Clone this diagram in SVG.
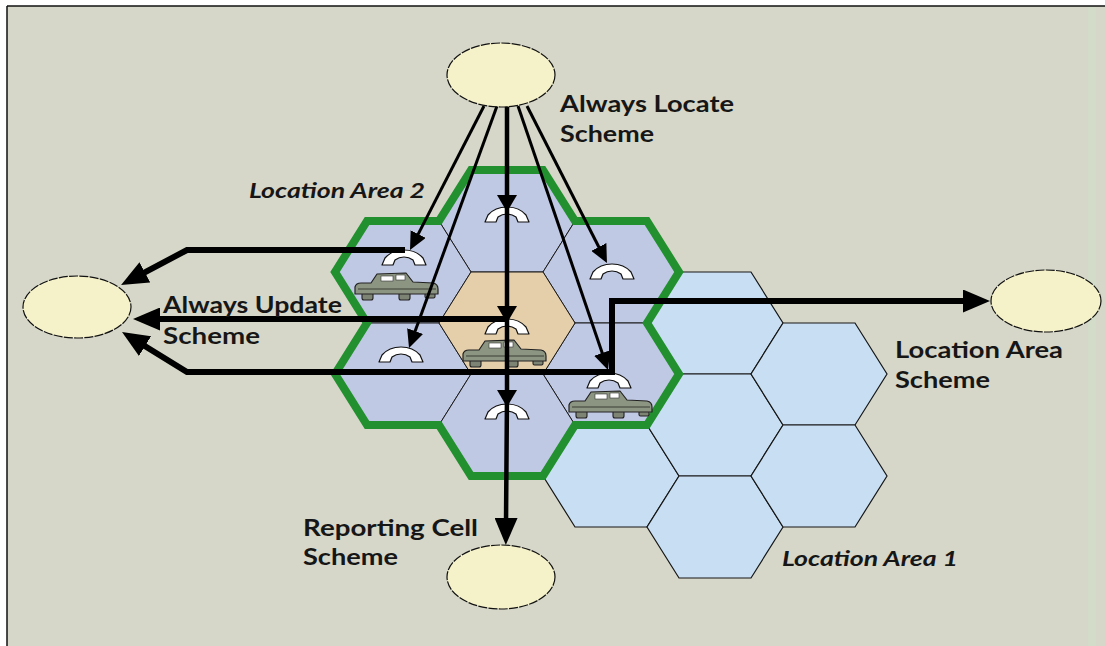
<svg xmlns="http://www.w3.org/2000/svg" xmlns:xlink="http://www.w3.org/1999/xlink" width="1105" height="646" viewBox="0 0 1105 646">
  <style>
    .lbl { font-family: Lato, "Open Sans", "Liberation Sans", sans-serif; font-weight: 700; font-size: 23px; fill: #161616; }
    .area { font-family: Lato, "Open Sans", "Liberation Sans", sans-serif; font-weight: 700; font-style: italic; font-size: 20px; fill: #161616; }
    .cell-la1 { fill: #c8dff3; stroke: #161616; stroke-width: 1.2; }
    .cell-la2 { fill: #c0c9e4; stroke: #1a1a1a; stroke-width: 1; }
    .cell-core { fill: #e5cfab; stroke: #1a1a1a; stroke-width: 1; }
    .la2-border { fill: none; stroke: #23902f; stroke-width: 8; stroke-linejoin: miter; }
    .db { fill: #f5f1c9; stroke: #111; stroke-width: 1.2; stroke-dasharray: 9 1.3; }
    .thin { fill: none; stroke: #000; stroke-width: 3; marker-end: url(#ahSmall); }
    .thick { fill: none; stroke: #000; stroke-width: 6; stroke-linejoin: miter; marker-end: url(#ahBig); }
    .spine { fill: none; stroke: #000; stroke-width: 4.5; marker-mid: url(#ahMid); marker-end: url(#ahBig); }
  </style>
  <defs>
    <polygon id="hex" points="-36,-51 36,-51 68,0 36,51 -36,51 -68,0"/>
    <marker id="ahBig" markerUnits="userSpaceOnUse" markerWidth="27" markerHeight="23" refX="6" refY="11.5" orient="auto">
      <path d="M0,0 L27,11.5 L0,23 Z" fill="#000"/>
    </marker>
    <marker id="ahMid" markerUnits="userSpaceOnUse" markerWidth="17" markerHeight="20" refX="4" refY="10" orient="auto">
      <path d="M0,0 L17,10 L0,20 Z" fill="#000"/>
    </marker>
    <marker id="ahSmall" markerUnits="userSpaceOnUse" markerWidth="18" markerHeight="17" refX="4" refY="8.5" orient="auto">
      <path d="M0,0 L18,8.5 L0,17 Z" fill="#000"/>
    </marker>
    <!-- telephone handset -->
    <path id="phone" d="M-22,7 L-19,0 Q-12,-8 0,-8 Q12,-8 19,0 L22,7 L11,7 L9,2 Q5,-1 0,-1 Q-5,-1 -9,2 L-11,7 Z" fill="#fff" stroke="#111" stroke-width="1.2" stroke-linejoin="round"/>
    <!-- sedan seen from the side -->
    <g id="car">
      <rect x="-34" y="3" width="11" height="11" rx="2" fill="#7d8474" stroke="#222" stroke-width="1.1"/>
      <rect x="3" y="3" width="11" height="11" rx="2" fill="#7d8474" stroke="#222" stroke-width="1.1"/>
      <rect x="29" y="5" width="10" height="7" rx="1.5" fill="#7d8474" stroke="#222" stroke-width="1.1"/>
      <path d="M-41,7 L-41,1 Q-40,-3 -35,-3 L-25,-3 L-19,-12 L10,-13 L17,-4 L37,-3 Q42,-2 42,3 L42,8 L-41,8 Z" fill="#8c9582" stroke="#222" stroke-width="1.2" stroke-linejoin="round"/>
      <rect x="-15" y="-10" width="12" height="5" fill="#fff" stroke="#333" stroke-width="0.6"/>
      <rect x="0" y="-11" width="9" height="5" fill="#fff" stroke="#333" stroke-width="0.6"/>
      <line x1="-38" y1="3" x2="40" y2="3" stroke="#3a3f35" stroke-width="1"/>
    </g>
  </defs>

  <!-- page and frame -->
  <rect x="0" y="0" width="1105" height="646" fill="#fff"/>
  <rect x="7" y="6" width="1098" height="640" fill="#d6d7c8"/>
  <rect x="1088" y="6" width="8" height="640" fill="#d2dcc9"/>
  <line x1="7" y1="6" x2="1105" y2="6" stroke="#111" stroke-width="1.5"/>
  <line x1="7" y1="6" x2="7" y2="646" stroke="#111" stroke-width="1.5"/>

  <!-- Location Area 1 cells -->
  <g id="location-area-1">
    <use xlink:href="#hex" href="#hex" x="611" y="476" class="cell-la1"/>
    <use xlink:href="#hex" href="#hex" x="715" y="323" class="cell-la1"/>
    <use xlink:href="#hex" href="#hex" x="715" y="425" class="cell-la1"/>
    <use xlink:href="#hex" href="#hex" x="715" y="527" class="cell-la1"/>
    <use xlink:href="#hex" href="#hex" x="819" y="374" class="cell-la1"/>
    <use xlink:href="#hex" href="#hex" x="819" y="476" class="cell-la1"/>
  </g>

  <!-- Location Area 2 cells -->
  <g id="location-area-2">
    <use xlink:href="#hex" href="#hex" x="507" y="221" class="cell-la2"/>
    <use xlink:href="#hex" href="#hex" x="403" y="272" class="cell-la2"/>
    <use xlink:href="#hex" href="#hex" x="611" y="272" class="cell-la2"/>
    <use xlink:href="#hex" href="#hex" x="403" y="374" class="cell-la2"/>
    <use xlink:href="#hex" href="#hex" x="611" y="374" class="cell-la2"/>
    <use xlink:href="#hex" href="#hex" x="507" y="425" class="cell-la2"/>
    <use xlink:href="#hex" href="#hex" x="507" y="323" class="cell-core"/>
    <path class="la2-border" d="M471,170 L543,170 L575,221 L647,221 L679,272 L647,323 L679,374 L647,425 L575,425 L543,476 L471,476 L439,425 L367,425 L335,374 L367,323 L335,272 L367,221 L439,221 Z"/>
  </g>

  <!-- handsets and vehicles -->
  <g id="terminals">
    <use xlink:href="#phone" href="#phone" x="507" y="215"/>
    <use xlink:href="#phone" href="#phone" x="404" y="258"/>
    <use xlink:href="#phone" href="#phone" x="612" y="272"/>
    <use xlink:href="#phone" href="#phone" x="507" y="327"/>
    <use xlink:href="#phone" href="#phone" x="401" y="355"/>
    <use xlink:href="#phone" href="#phone" x="507" y="412"/>
    <use xlink:href="#phone" href="#phone" x="609" y="381"/>
    <use xlink:href="#car" href="#car" x="396" y="286"/>
    <use xlink:href="#car" href="#car" x="504" y="353"/>
    <use xlink:href="#car" href="#car" x="610" y="404"/>
  </g>

  <!-- connectors -->
  <g id="connectors">
    <path class="thin" d="M484,106 L416.4,237.6"/>
    <path class="thin" d="M497,106 L413.8,334.8"/>
    <path class="thin" d="M518,106 L603.5,356.7"/>
    <path class="thin" d="M527,106 L600.6,250.5"/>
    <path class="spine" d="M507,106 L507,199 L507,310 L507,394 L506,524"/>
    <path class="thick" d="M405,250 L187,250 L139.6,275.2"/>
    <path class="thick" d="M507,319 L154,319"/>
    <path class="thick" d="M612,372 L187,372 L139.9,343"/>
    <path class="thick" d="M612,375 L612,301 L969,301"/>
  </g>

  <!-- scheme nodes -->
  <g id="always-locate">
    <ellipse class="db" cx="501" cy="75" rx="54" ry="32"/>
    <text class="lbl" x="560" y="112" textLength="174" lengthAdjust="spacingAndGlyphs">Always Locate</text>
    <text class="lbl" x="560" y="142" textLength="94" lengthAdjust="spacingAndGlyphs">Scheme</text>
  </g>
  <g id="always-update">
    <ellipse class="db" cx="77" cy="307" rx="54" ry="31"/>
    <text class="lbl" x="163" y="313" textLength="179" lengthAdjust="spacingAndGlyphs">Always Update</text>
    <text class="lbl" x="163" y="344" textLength="97" lengthAdjust="spacingAndGlyphs">Scheme</text>
  </g>
  <g id="location-area-scheme">
    <ellipse class="db" cx="1046" cy="301" rx="55" ry="31"/>
    <text class="lbl" x="895" y="358" textLength="168" lengthAdjust="spacingAndGlyphs">Location Area</text>
    <text class="lbl" x="895" y="388" textLength="95" lengthAdjust="spacingAndGlyphs">Scheme</text>
  </g>
  <g id="reporting-cell">
    <ellipse class="db" cx="501" cy="577" rx="54" ry="32"/>
    <text class="lbl" x="303" y="536" textLength="175" lengthAdjust="spacingAndGlyphs">Reporting Cell</text>
    <text class="lbl" x="303" y="565" textLength="95" lengthAdjust="spacingAndGlyphs">Scheme</text>
  </g>

  <!-- area captions -->
  <g id="area-labels">
    <text class="area" x="249" y="198" textLength="176" lengthAdjust="spacingAndGlyphs">Location Area 2</text>
    <text class="area" x="782" y="566" textLength="176" lengthAdjust="spacingAndGlyphs">Location Area 1</text>
  </g>
</svg>
